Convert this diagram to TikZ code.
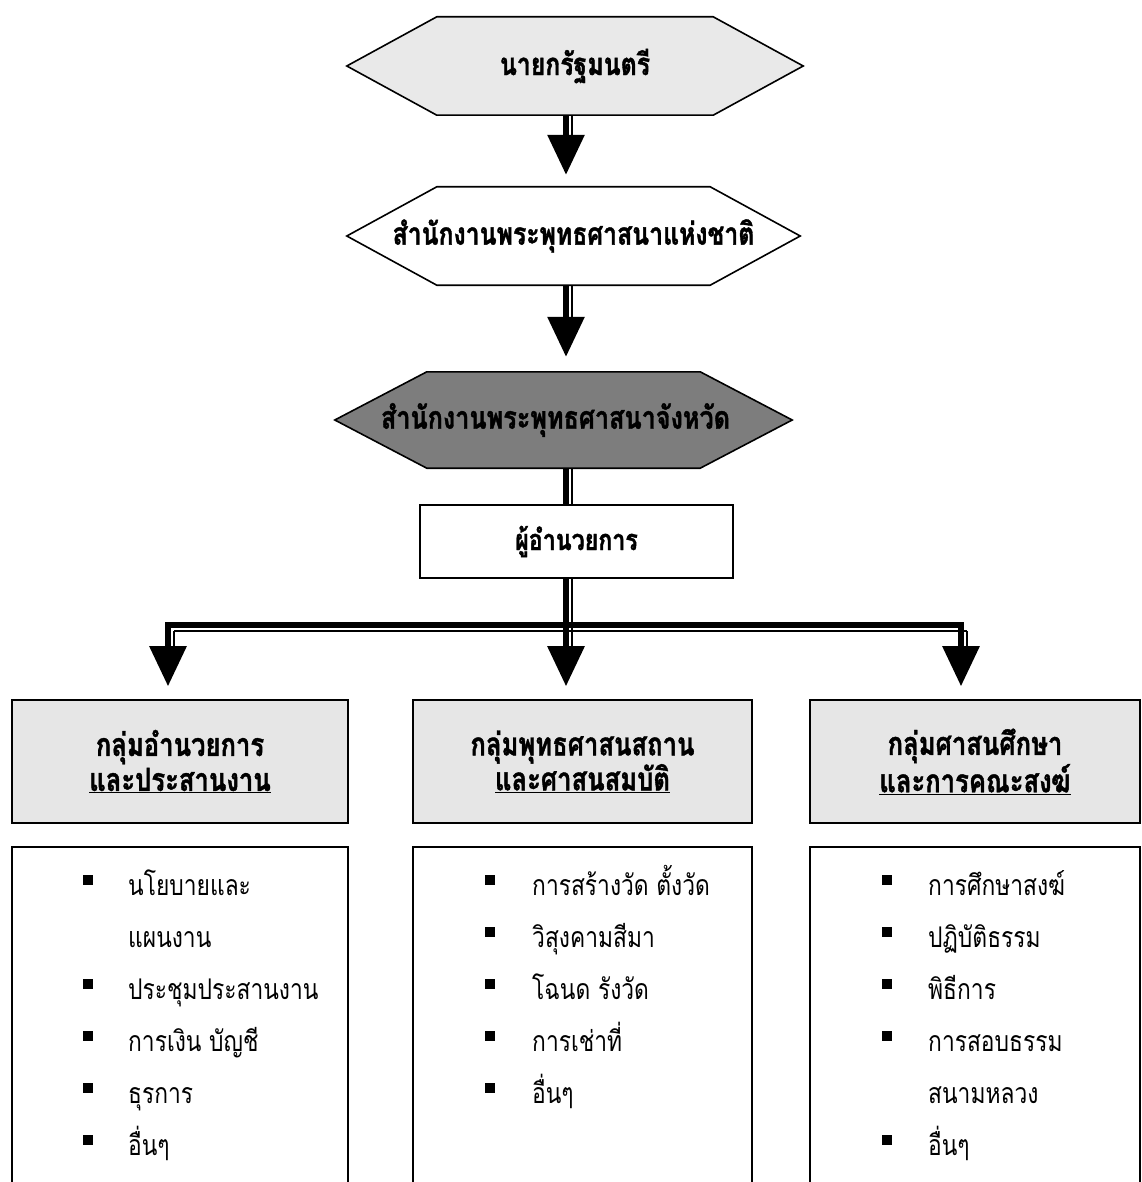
\documentclass[tikz,border=0pt]{standalone}
\usepackage{fontspec}
\newfontfamily\thai[Script=Thai,FakeStretch=0.8,BoldFeatures={FakeBold=1.2}]{Loma}
\usetikzlibrary{arrows.meta,backgrounds}
\definecolor{hexgray}{HTML}{E9E9E9}
\definecolor{hexdark}{HTML}{7D7D7D}
\definecolor{headgray}{HTML}{E6E6E6}
\tikzset{
  hexnode/.style={inner sep=0pt, minimum width=#1, minimum height=98pt, font=\thai\bfseries\fontsize{31}{34}\selectfont},
  hexline/.style={line width=1.6pt, draw=black, line join=miter},
  dirbox/.style={draw, line width=1.6pt, minimum width=313pt, minimum height=73pt, inner sep=0pt, fill=white, font=\thai\bfseries\fontsize{29}{32}\selectfont},
  grpbox/.style={draw, line width=1.6pt, fill=headgray, minimum height=123pt, inner sep=0pt, align=center, font=\thai\bfseries\fontsize{32}{35}\selectfont},
  listbox/.style={draw, line width=1.4pt, minimum height=420pt, inner sep=0pt},
  listitem/.style={anchor=base west, inner sep=0pt, font=\thai\fontsize{28.5}{32}\selectfont},
  bar/.style={line width=6pt, draw=black},
  thinbar/.style={line width=1.4pt, draw=black},
  headtip/.style={-{Triangle[width=36pt,length=40pt]}},
}
\newcommand{\blt}[2]{\fill[black] (#1-5,#2-20) rectangle (#1+5,#2-10);}
\begin{document}
\begin{tikzpicture}[x=1pt,y=-1pt]
\useasboundingbox (0,0) rectangle (1141,1182);
% hexagons
\node[hexnode=276pt] (h1) at (575,66) {\makebox[0pt]{นายกรัฐมนตรี}};
\node[hexnode=273pt] (h2) at (573.5,236) {\makebox[0pt]{สำนักงานพระพุทธศาสนาแห่งชาติ}};
\node[hexnode=273pt, minimum height=96pt, font=\thai\bfseries\fontsize{31.5}{34}\selectfont] (h3) at (563.5,420) {\makebox[0pt]{สำนักงานพระพุทธศาสนาจังหวัด\hspace{16pt}}};
\begin{pgfonlayer}{background}
  \fill[white] (0,0) rectangle (1141,1182);
  \draw[hexline, fill=hexgray] ([xshift=-90pt]h1.west) -- (h1.north west) -- (h1.north east) -- ([xshift=90pt]h1.east) -- (h1.south east) -- (h1.south west) -- cycle;
  \draw[hexline, fill=white] ([xshift=-90pt]h2.west) -- (h2.north west) -- (h2.north east) -- ([xshift=90pt]h2.east) -- (h2.south east) -- (h2.south west) -- cycle;
  \draw[hexline, fill=hexdark] ([xshift=-92pt]h3.west) -- (h3.north west) -- (h3.north east) -- ([xshift=92pt]h3.east) -- (h3.south east) -- (h3.south west) -- cycle;
\end{pgfonlayer}
% director
\node[dirbox] (d) at (576.5,541.5) {ผู้อำนวยการ};
% groups
\node[grpbox, minimum width=336pt] (g1) at (180,761.5) {กลุ่มอำนวยการ\\\underline{และประสานงาน}};
\node[grpbox, minimum width=339pt] (g2) at (582.5,761.5) {กลุ่มพุทธศาสนสถาน\\\underline{และศาสนสมบัติ}};
\node[grpbox, minimum width=330pt] (g3) at (975,761.5) {กลุ่มศาสนศึกษา\\\underline{และการคณะสงฆ์}};
% list boxes
\node[listbox, minimum width=336pt] (l1) at (180,1057) {};
\node[listbox, minimum width=339pt] (l2) at (582.5,1057) {};
\node[listbox, minimum width=330pt] (l3) at (975,1057) {};
% connector guides
\coordinate (ax) at (566,0);
\coordinate (ax2) at (572,0);
\coordinate (bl) at (168,625);
\coordinate (br) at (961,625);
\coordinate (bt1) at (174,631);
\coordinate (bt2) at (967,631);
% arrows
\draw[bar, headtip, shorten >=12pt] (h1.south -| ax) -- (h2.north -| ax);
\draw[thinbar, shorten >=52pt] (h1.south -| ax2) -- (h2.north -| ax2);
\draw[bar, headtip, shorten >=15pt] (h2.south -| ax) -- (h3.north -| ax);
\draw[thinbar, shorten >=55pt] (h2.south -| ax2) -- (h3.north -| ax2);
\draw[bar] (h3.south -| ax) -- (d.north -| ax);
\draw[thinbar] (h3.south -| ax2) -- (d.north -| ax2);
\draw[bar, headtip, shorten >=13pt] (d.south -| ax) -- (g2.north -| ax);
\draw[thinbar, shorten >=53pt] (d.south -| ax2) -- (g2.north -| ax2);
\draw[bar, line cap=rect] (bl) -- (br);
\draw[thinbar] (bt1) -- (bt2);
\draw[bar, headtip, shorten >=13pt] ([yshift=3pt]bl) -- (g1.north -| bl);
\draw[thinbar, shorten >=53pt] (bt1) -- (g1.north -| bt1);
\draw[bar, headtip, shorten >=13pt] ([yshift=3pt]br) -- (g3.north -| br);
\draw[thinbar, shorten >=53pt] (bt2) -- (g3.north -| bt2);
% list 1
\node[listitem] (a1) at (128,895) {นโยบายและ};
\node[listitem] (a2) at (128,947) {แผนงาน};
\node[listitem] (a3) at (128,999) {ประชุมประสานงาน};
\node[listitem] (a4) at (128,1051) {การเงิน บัญชี};
\node[listitem] (a5) at (128,1103) {ธุรการ};
\node[listitem] (a6) at (128,1155) {อื่นๆ};
\blt{88}{895}\blt{88}{999}\blt{88}{1051}\blt{88}{1103}\blt{88}{1155}
% list 2
\node[listitem] (b1) at (532,895) {การสร้างวัด ตั้งวัด};
\node[listitem] (b2) at (532,947) {วิสุงคามสีมา};
\node[listitem] (b3) at (532,999) {โฉนด รังวัด};
\node[listitem] (b4) at (532,1051) {การเช่าที่};
\node[listitem] (b5) at (532,1103) {อื่นๆ};
\blt{490}{895}\blt{490}{947}\blt{490}{999}\blt{490}{1051}\blt{490}{1103}
% list 3
\node[listitem] (c1) at (928,895) {การศึกษาสงฆ์};
\node[listitem] (c2) at (928,947) {ปฏิบัติธรรม};
\node[listitem] (c3) at (928,999) {พิธีการ};
\node[listitem] (c4) at (928,1051) {การสอบธรรม};
\node[listitem] (c5) at (928,1103) {สนามหลวง};
\node[listitem] (c6) at (928,1155) {อื่นๆ};
\blt{887}{895}\blt{887}{947}\blt{887}{999}\blt{887}{1051}\blt{887}{1155}
\end{tikzpicture}
\end{document}
